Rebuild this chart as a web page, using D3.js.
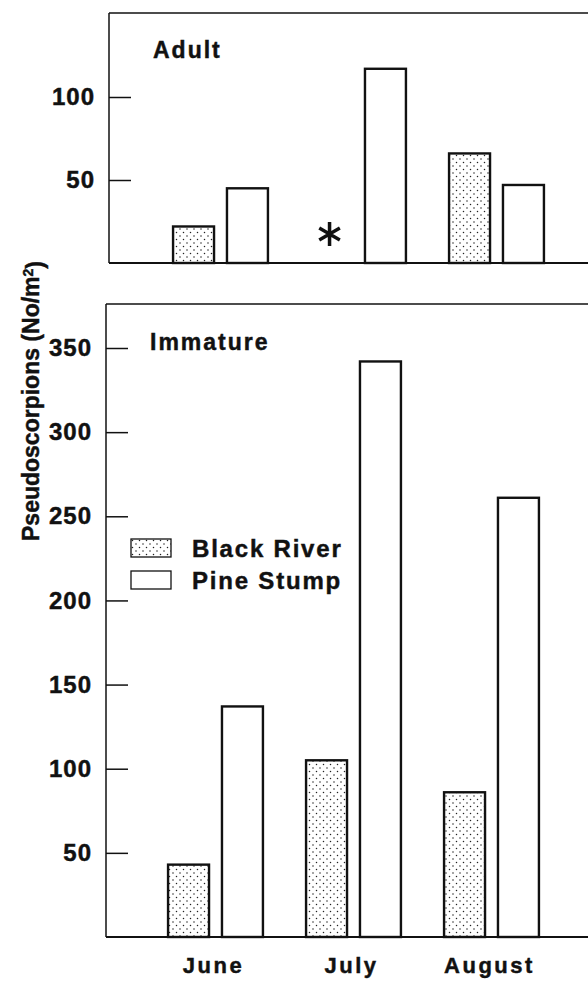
<!DOCTYPE html>
<html>
<head>
<meta charset="utf-8">
<script src="https://cdn.jsdelivr.net/npm/d3@7"></script>
<style>
    body { margin: 0; background: #fff; }
    text { font-family: "Liberation Sans", Arial, Helvetica, sans-serif; font-weight: bold; fill: #111; stroke: #111; stroke-width: 0.45px; }
</style>
</head>
<body>
<div id="chart"></div>
<script>
// data
var months = ["June", "July", "August"];
var sites = ["Black River", "Pine Stump"];
var adultBlackRiver = [22, null, 66];     // July: no sample (asterisk)
var adultPineStump = [45, 117, 47];
var immatureBlackRiver = [43, 105, 86];
var immaturePineStump = [137, 342, 261];
var adultTicks = [50, 100];
var immatureTicks = [50, 100, 150, 200, 250, 300, 350];

var width = 588, height = 981;
var ink = "#111";

var svg = d3.select("#chart").append("svg")
    .attr("width", width)
    .attr("height", height);

// stipple for Black River
var defs = svg.append("defs");
var pat = defs.append("pattern")
    .attr("id", "dots")
    .attr("patternUnits", "userSpaceOnUse")
    .attr("width", 7)
    .attr("height", 7);
pat.append("rect").attr("width", 7).attr("height", 7).attr("fill", "#fff");
pat.append("circle").attr("cx", 1.5).attr("cy", 1.5).attr("r", 0.75).attr("fill", "#222");
pat.append("circle").attr("cx", 5).attr("cy", 5).attr("r", 0.75).attr("fill", "#222");

function fillFor(site) {
    return site === "Black River" ? "url(#dots)" : "#fff";
}

function drawPanel(opt) {
    var g = svg.append("g");

    var x = d3.scaleBand()
        .domain(months)
        .range(opt.xRange);

    var xSub = d3.scaleBand()
        .domain(sites)
        .range([0, x.bandwidth()])
        .paddingInner(0.24)
        .paddingOuter(0.4);

    var y = d3.scaleLinear()
        .domain(opt.domain)
        .range(opt.yRange);

    // frame: top line and baseline run off the right edge
    g.append("line")
        .attr("x1", opt.axisX).attr("x2", width)
        .attr("y1", opt.top).attr("y2", opt.top)
        .attr("stroke", ink).attr("stroke-width", 1.5);
    g.append("line")
        .attr("x1", opt.axisX).attr("x2", width)
        .attr("y1", y(0)).attr("y2", y(0))
        .attr("stroke", ink).attr("stroke-width", 1.8);

    var yAxis = d3.axisLeft(y)
        .tickValues(opt.ticks)
        .tickSize(-22)
        .tickPadding(14)
        .tickFormat(d3.format("d"));

    var gy = g.append("g")
        .attr("transform", "translate(" + opt.axisX + ",0)")
        .call(yAxis);
    gy.select(".domain").remove();
    gy.selectAll(".tick line").attr("stroke", ink).attr("stroke-width", 1.5);
    gy.selectAll(".tick text")
        .style("font-size", "24px")
        .style("letter-spacing", "1px")
        .attr("fill", ink);

    g.append("line")
        .attr("x1", opt.axisX).attr("x2", opt.axisX)
        .attr("y1", opt.top).attr("y2", y(0))
        .attr("stroke", ink).attr("stroke-width", 1.5);

    var rows = [];
    months.forEach(function (m, i) {
        rows.push({month: m, site: "Black River", value: opt.blackRiver[i]});
        rows.push({month: m, site: "Pine Stump", value: opt.pineStump[i]});
    });

    g.selectAll(".bar")
        .data(rows.filter(function (d) { return d.value !== null; }))
        .enter()
        .append("rect")
        .attr("class", "bar")
        .attr("x", function (d) { return x(d.month) + xSub(d.site); })
        .attr("y", function (d) { return y(d.value); })
        .attr("width", xSub.bandwidth())
        .attr("height", function (d) { return y(0) - y(d.value); })
        .attr("fill", function (d) { return fillFor(d.site); })
        .attr("stroke", ink)
        .attr("stroke-width", 2.4);

    // missing sample marker
    rows.filter(function (d) { return d.value === null; }).forEach(function (d) {
        g.append("path")
            .attr("d", d3.symbol(d3.symbolAsterisk, 400)())
            .attr("transform", "translate(" + (x(d.month) + xSub(d.site) + xSub.bandwidth() / 2 - 2) + "," + (y(0) - 29) + ")")
            .attr("fill", "none")
            .attr("stroke", ink)
            .attr("stroke-width", 3.5);
    });

    g.append("text")
        .attr("x", opt.titleX)
        .attr("y", opt.titleY)
        .style("font-size", "23px")
        .style("letter-spacing", "2px")
        .text(opt.title);

    return {x: x, y: y};
}

drawPanel({
    title: "Adult",
    titleX: 153, titleY: 58,
    top: 13,
    axisX: 109,
    xRange: [151.5, 565.5],
    domain: [0, 100],
    yRange: [263, 97],
    ticks: adultTicks,
    blackRiver: adultBlackRiver,
    pineStump: adultPineStump
});

var bottom = drawPanel({
    title: "Immature",
    titleX: 150, titleY: 350,
    top: 304,
    axisX: 106,
    xRange: [146.5, 560.5],
    domain: [0, 350],
    yRange: [937, 348],
    ticks: immatureTicks,
    blackRiver: immatureBlackRiver,
    pineStump: immaturePineStump
});

// month labels
svg.selectAll(".month")
    .data(months)
    .enter()
    .append("text")
    .attr("class", "month")
    .attr("x", function (d) { return bottom.x(d) + bottom.x.bandwidth() / 2 - 2; })
    .attr("y", 973)
    .attr("text-anchor", "middle")
    .style("font-size", "22px")
    .style("letter-spacing", "2.5px")
    .text(function (d) { return d; });

// legend
var legend = svg.append("g")
    .attr("transform", "translate(131,539)");
var item = legend.selectAll(".item")
    .data(sites)
    .enter()
    .append("g")
    .attr("transform", function (d, i) { return "translate(0," + (i * 32) + ")"; });
item.append("rect")
    .attr("width", 40)
    .attr("height", 18)
    .attr("fill", function (d) { return fillFor(d); })
    .attr("stroke", ink)
    .attr("stroke-width", 1.3);
item.append("text")
    .attr("x", 61)
    .attr("y", 18)
    .style("font-size", "24px")
    .style("letter-spacing", "1.8px")
    .text(function (d) { return d; });

// y axis title
var yt = svg.append("text")
    .attr("transform", "translate(39,401) rotate(-90)")
    .attr("text-anchor", "middle")
    .style("font-size", "23px")
    .style("letter-spacing", "0px");
yt.append("tspan").text("Pseudoscorpions (No/m");
yt.append("tspan").attr("dy", "-0.45em").style("font-size", "14px").text("2");
yt.append("tspan").attr("dy", "0.45em").text(")");
</script>
</body>
</html>
